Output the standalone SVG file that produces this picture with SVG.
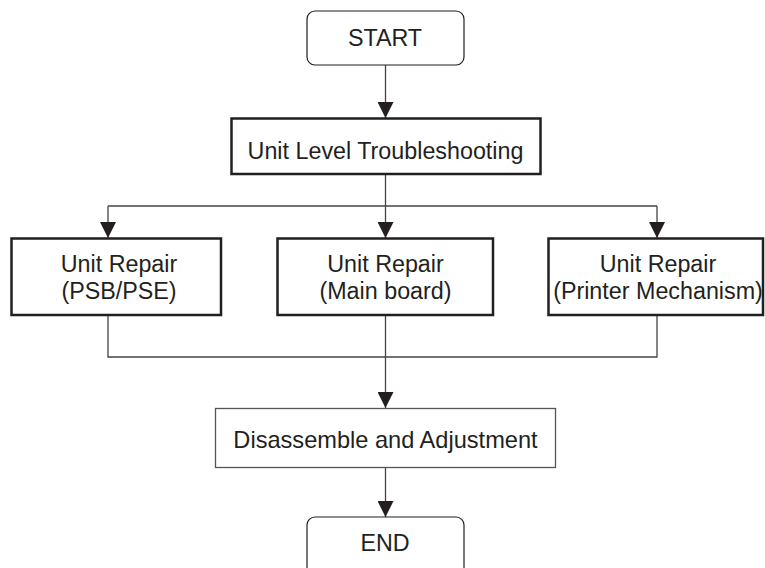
<svg xmlns="http://www.w3.org/2000/svg" width="765" height="568" viewBox="0 0 765 568">
<style>
text{font-family:"Liberation Sans",Arial,sans-serif;font-size:23.3px;fill:#231f20;text-anchor:middle}
.thin{fill:#fff;stroke:#231f20;stroke-width:1.2}
.thick{fill:#fff;stroke:#231f20;stroke-width:2.5}
.grey{fill:#fff;stroke:#555;stroke-width:1.3}
.conn{fill:none;stroke:#444;stroke-width:1.3}
</style>
<defs>
<marker id="ah" markerUnits="userSpaceOnUse" markerWidth="16" markerHeight="16" refX="15" refY="7.5" orient="auto" viewBox="0 0 15 15">
<path d="M0,0 L15,7.5 L0,15 Z" fill="#231f20"/>
</marker>
</defs>
<rect width="765" height="568" fill="#fff"/>
<g id="connectors">
<line class="conn" x1="385.5" y1="65" x2="385.5" y2="118" marker-end="url(#ah)"/>
<polyline class="conn" points="385.5,174 385.5,206"/>
<polyline class="conn" points="108,206 657,206"/>
<line class="conn" x1="108" y1="206" x2="108" y2="238" marker-end="url(#ah)"/>
<line class="conn" x1="385.5" y1="206" x2="385.5" y2="238" marker-end="url(#ah)"/>
<line class="conn" x1="657" y1="206" x2="657" y2="238" marker-end="url(#ah)"/>
<polyline class="conn" points="108,315 108,357 657,357 657,315"/>
<line class="conn" x1="385.5" y1="315" x2="385.5" y2="408" marker-end="url(#ah)"/>
<line class="conn" x1="385.5" y1="468" x2="385.5" y2="517" marker-end="url(#ah)"/>
</g>
<g id="start">
<rect class="thin" x="307" y="11" width="157" height="54" rx="8"/>
<text x="385" y="46">START</text>
</g>
<g id="troubleshooting">
<rect class="thick" x="231.5" y="118.5" width="309" height="55.5"/>
<text x="385.5" y="159">Unit Level Troubleshooting</text>
</g>
<g id="repair-psb">
<rect class="thick" x="11.5" y="238.5" width="209.5" height="76.5"/>
<text x="119" y="271.5">Unit Repair</text>
<text x="119" y="299">(PSB/PSE)</text>
</g>
<g id="repair-main">
<rect class="thick" x="277.5" y="238.5" width="215.5" height="76.5"/>
<text x="385.5" y="271.5">Unit Repair</text>
<text x="385.5" y="299">(Main board)</text>
</g>
<g id="repair-printer">
<rect class="thick" x="548.5" y="238.5" width="214.5" height="76.5"/>
<text x="658" y="271.5">Unit Repair</text>
<text x="658" y="299">(Printer Mechanism)</text>
</g>
<g id="disassemble">
<rect class="grey" x="215.5" y="408.5" width="340" height="59"/>
<text x="385.5" y="447.5" style="font-size:23.6px">Disassemble and Adjustment</text>
</g>
<g id="end">
<rect class="thin" x="307" y="517" width="157" height="60" rx="8"/>
<text x="385" y="551">END</text>
</g>
</svg>
